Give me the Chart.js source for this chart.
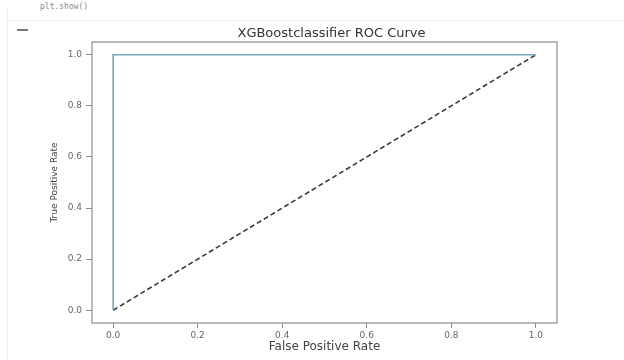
<!DOCTYPE html>
<html>
<head>
<meta charset="utf-8">
<script src="https://cdn.jsdelivr.net/npm/chart.js@4.4.1/dist/chart.umd.min.js"></script>
<style>
    body { margin: 0; background: #fff; }
    #wrap { position: relative; width: 624px; height: 360px; overflow: hidden; }
    #chart { position: absolute; left: 0; top: 0; }
    .gutter { position: absolute; left: 7px; top: 8px; width: 1px; height: 352px; background: #ececec; }
    .sep { position: absolute; left: 8px; top: 20px; width: 616px; height: 1px; background: #f4f4f4; }
    .code { position: absolute; left: 40px; top: 2px; font: 8px "DejaVu Sans Mono", monospace; color: #8a8a8a; }
    .dots { position: absolute; left: 17px; top: 29px; width: 11px; height: 2px; background: #777; }
</style>
</head>
<body>
<div id="wrap">
    <div class="gutter"></div>
    <div class="sep"></div>
    <div class="code">plt.show()</div>
    <div class="dots"></div>
    <canvas id="chart" width="624" height="360"></canvas>
</div>
<script>
// roc curve points
var fpr = [0.0, 0.0, 1.0];
var tpr = [0.0, 1.0, 1.0];
// chance line
var chanceX = [0.0, 1.0];
var chanceY = [0.0, 1.0];
// ticks on both axes
var tickValues = [0.0, 0.2, 0.4, 0.6, 0.8, 1.0];
var chartTitle = 'XGBoostclassifier ROC Curve';

var font = "'DejaVu Sans', sans-serif";

function toPoints(xs, ys) {
    return xs.map(function (x, i) { return {x: x, y: ys[i]}; });
}

// matplotlib style box round the plot, title centred over the axes
var frame = {
    id: 'frame',
    afterDraw: function (chart) {
        var a = chart.chartArea, ctx = chart.ctx;
        ctx.save();
        ctx.strokeStyle = '#8c8c8c';
        ctx.lineWidth = 1.2;
        ctx.strokeRect(a.left, a.top, a.right - a.left, a.bottom - a.top);

        ctx.fillStyle = '#333';
        ctx.font = '13px ' + font;
        ctx.textAlign = 'center';
        ctx.textBaseline = 'middle';
        ctx.fillText(chartTitle, (a.left + a.right) / 2 + 7, 34);
        ctx.restore();
    }
};

function fixTicks(scale) {
    scale.ticks = tickValues.map(function (v) { return {value: v}; });
}

new Chart(document.getElementById('chart'), {
    type: 'scatter',
    data: {
        datasets: [{
            data: toPoints(fpr, tpr),
            showLine: true,
            borderColor: '#74aab6',
            borderWidth: 1.6,
            pointRadius: 0,
            fill: false
        }, {
            data: toPoints(chanceX, chanceY),
            showLine: true,
            borderColor: '#3a3a3a',
            borderWidth: 1.6,
            borderDash: [5, 3],
            pointRadius: 0,
            fill: false
        }]
    },
    options: {
        responsive: false,
        animation: false,
        layout: { padding: { left: 0, right: 67, top: 42, bottom: 0 } },
        plugins: {
            legend: { display: false },
            tooltip: { enabled: false }
        },
        scales: {
            x: {
                type: 'linear',
                min: -0.05,
                max: 1.05,
                afterBuildTicks: fixTicks,
                afterFit: function (scale) { scale.height = 37; },
                border: { display: false },
                grid: { drawOnChartArea: false, tickLength: 5, color: '#8c8c8c' },
                ticks: {
                    color: '#666',
                    padding: 2,
                    maxRotation: 0,
                    font: { family: font, size: 9 },
                    callback: function (v) { return v.toFixed(1); }
                },
                title: {
                    display: true,
                    text: 'False Positive Rate',
                    color: '#444',
                    font: { family: font, size: 12 },
                    padding: { top: 0, bottom: 6 }
                }
            },
            y: {
                type: 'linear',
                min: -0.05,
                max: 1.05,
                afterBuildTicks: fixTicks,
                afterFit: function (scale) { scale.width = 92; },
                border: { display: false },
                grid: { drawOnChartArea: false, tickLength: 6, color: '#8c8c8c' },
                ticks: {
                    color: '#666',
                    padding: 4,
                    font: { family: font, size: 9 },
                    callback: function (v) { return v.toFixed(1); }
                },
                title: {
                    display: true,
                    text: 'True Positive Rate',
                    color: '#444',
                    font: { family: font, size: 9 },
                    padding: { top: 49, bottom: 0 }
                }
            }
        }
    },
    plugins: [frame]
});
</script>
</body>
</html>
